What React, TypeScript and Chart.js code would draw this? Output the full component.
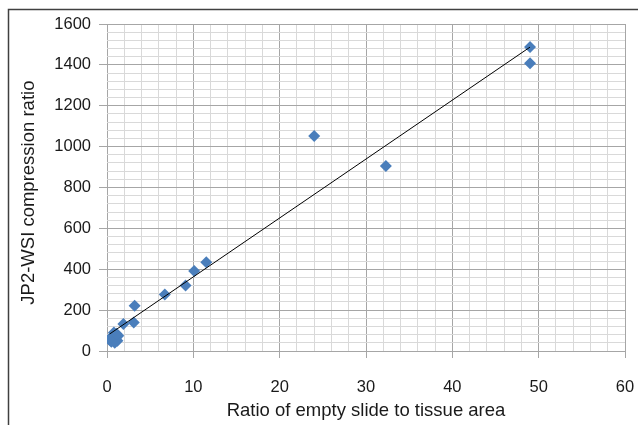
import React, { useEffect, useRef } from "react";
import { Chart, registerables } from "chart.js";

Chart.register(...registerables);

const xValues = [49.0, 49.0, 24.0, 32.3, 11.5, 10.1, 9.1, 6.7, 3.2, 3.1, 1.9, 0.3, 0.5, 0.6, 0.8, 1.0, 1.2, 1.3, 0.9, 0.4, 1.1];
const yValues = [1487, 1408, 1052, 905, 434, 391, 320, 277, 222, 140, 132, 55, 45, 70, 90, 60, 50, 75, 40, 65, 85];
const trendX = [0.3, 49.0];
const trendY = [83, 1487];
const xTitle = "Ratio of empty slide to tissue area";
const yTitle = "JP2-WSI compression ratio  ";

const frame = {
  id: "frame",
  afterDraw(chart: any) {
    const ctx = chart.ctx;
    ctx.save();
    ctx.strokeStyle = "#404040";
    ctx.lineWidth = 1.5;
    ctx.beginPath();
    ctx.moveTo(8.5, 430);
    ctx.lineTo(8.5, 9.5);
    ctx.lineTo(640, 9.5);
    ctx.stroke();
    ctx.restore();
  },
};

export default function App() {
  const ref = useRef<HTMLCanvasElement>(null);
  useEffect(() => {
    const pts = xValues.map((x, i) => ({ x, y: yValues[i] }));
    const line = trendX.map((x, i) => ({ x, y: trendY[i] }));
    const tickFont = { family: "'Liberation Sans', Arial, sans-serif", size: 16.5 };
    const titleFont = { family: "'Liberation Sans', Arial, sans-serif", size: 18.5 };
    const chart = new Chart(ref.current!, {
      type: "scatter",
      data: {
        datasets: [
          {
            type: "line",
            data: line,
            borderColor: "#000000",
            borderWidth: 1,
            pointRadius: 0,
            fill: false,
          } as any,
          {
            data: pts,
            pointStyle: "rectRot",
            pointRadius: 6,
            backgroundColor: "#4a7ebb",
            borderColor: "#4a7ebb",
            borderWidth: 0,
          },
        ],
      },
      options: {
        animation: false,
        responsive: false,
        devicePixelRatio: 1,
        layout: { padding: { left: 0, top: 24, right: 13, bottom: 0 } },
        plugins: { legend: { display: false }, tooltip: { enabled: false } },
        scales: {
          x: {
            type: "linear",
            min: 0,
            max: 60,
            afterFit: (s: any) => { s.height = 74; s.paddingLeft = 0; s.paddingRight = 0; },
            ticks: {
              stepSize: 2,
              autoSkip: false,
              maxTicksLimit: 100,
              maxRotation: 0,
              padding: 20,
              color: "#1a1a1a",
              font: tickFont,
              callback: (v: any) => (v % 10 === 0 ? String(v) : ""),
            },
            grid: {
              color: (c: any) => (c.tick && c.tick.value % 10 === 0 ? "#a6a6a6" : "#d9d9d9"),
              tickColor: (c: any) => (c.tick && c.tick.value % 10 === 0 ? "#a6a6a6" : "rgba(0,0,0,0)"),
              tickLength: 7,
            },
            border: { display: false },
            title: { display: true, text: xTitle, color: "#1a1a1a", font: titleFont, padding: { top: 0, bottom: 3 } },
          },
          y: {
            type: "linear",
            min: 0,
            max: 1600,
            afterFit: (s: any) => { s.width = 107; s.paddingTop = 0; s.paddingBottom = 0; },
            ticks: {
              stepSize: 40,
              autoSkip: false,
              maxTicksLimit: 100,
              padding: 8,
              color: "#1a1a1a",
              font: tickFont,
              callback: (v: any) => (v % 200 === 0 ? String(v) : ""),
            },
            grid: {
              color: (c: any) => (c.tick && c.tick.value % 200 === 0 ? "#a6a6a6" : "#d9d9d9"),
              tickColor: (c: any) => (c.tick && c.tick.value % 200 === 0 ? "#a6a6a6" : "rgba(0,0,0,0)"),
              tickLength: 8,
            },
            border: { display: false },
            title: { display: true, text: yTitle, color: "#1a1a1a", font: titleFont, padding: { top: 18, bottom: 0 } },
          },
        },
      },
      plugins: [frame],
    } as any);
    return () => chart.destroy();
  }, []);
  return (
    <div style={{ position: "fixed", left: 0, top: 0, width: 638, height: 425, background: "#fff" }}>
      <canvas ref={ref} width={638} height={425} style={{ width: 638, height: 425, display: "block" }} />
    </div>
  );
}
